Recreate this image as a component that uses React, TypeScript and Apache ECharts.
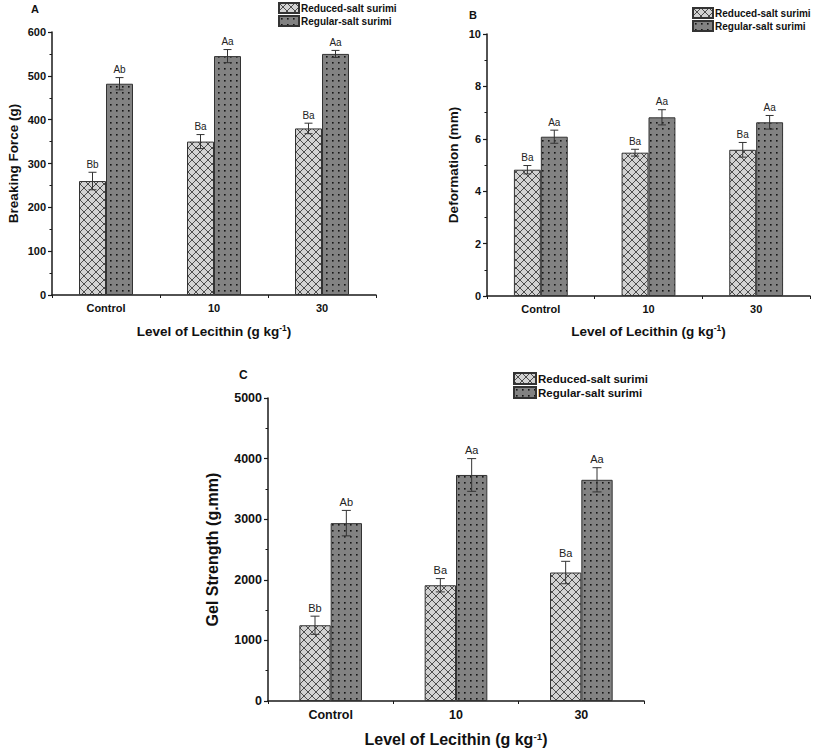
import React, { useEffect, useRef } from "react";
import * as echarts from "echarts";

const CATEGORIES = ["Control", "10", "30"];
const SERIES_NAMES = ["Reduced-salt surimi", "Regular-salt surimi"];

// Panel A: Breaking force (g)
const A_REDUCED = [260, 350, 380];
const A_REDUCED_ERR = [20, 16, 12];
const A_REGULAR = [482, 545, 550];
const A_REGULAR_ERR = [14, 15, 8];
const A_REDUCED_LABELS = ["Bb", "Ba", "Ba"];
const A_REGULAR_LABELS = ["Ab", "Aa", "Aa"];

// Panel B: Deformation (mm)
const B_REDUCED = [4.82, 5.47, 5.58];
const B_REDUCED_ERR = [0.16, 0.13, 0.28];
const B_REGULAR = [6.08, 6.82, 6.63];
const B_REGULAR_ERR = [0.25, 0.29, 0.26];
const B_REDUCED_LABELS = ["Ba", "Ba", "Ba"];
const B_REGULAR_LABELS = ["Aa", "Aa", "Aa"];

// Panel C: Gel strength (g.mm)
const C_REDUCED = [1250, 1910, 2120];
const C_REDUCED_ERR = [150, 110, 185];
const C_REGULAR = [2935, 3730, 3650];
const C_REGULAR_ERR = [210, 270, 200];
const C_REDUCED_LABELS = ["Bb", "Ba", "Ba"];
const C_REGULAR_LABELS = ["Ab", "Aa", "Aa"];

const FONT = "Liberation Sans, Arial, sans-serif";

function makeCrossHatch() {
  const c = document.createElement("canvas");
  c.width = 8;
  c.height = 8;
  const ctx = c.getContext("2d")!;
  ctx.fillStyle = "#d2d2d2";
  ctx.fillRect(0, 0, 8, 8);
  ctx.strokeStyle = "#3c3c3c";
  ctx.lineWidth = 0.9;
  ctx.beginPath();
  ctx.moveTo(-1, -1);
  ctx.lineTo(9, 9);
  ctx.moveTo(9, -1);
  ctx.lineTo(-1, 9);
  ctx.stroke();
  return c;
}

function makeDots() {
  const c = document.createElement("canvas");
  c.width = 6;
  c.height = 6;
  const ctx = c.getContext("2d")!;
  ctx.fillStyle = "#828282";
  ctx.fillRect(0, 0, 6, 6);
  ctx.fillStyle = "#151515";
  ctx.fillRect(2, 2, 1.6, 1.6);
  return c;
}

export default function App() {
  const ref = useRef<HTMLDivElement>(null);

  useEffect(() => {
    document.body.style.margin = "0";
    const chart = echarts.init(ref.current!, null, { renderer: "svg" });
    const hatch = makeCrossHatch();
    const dots = makeDots();
    const hatchColor: any = { image: hatch, repeat: "repeat", imageWidth: 8, imageHeight: 8 };
    const dotsColor: any = { image: dots, repeat: "repeat", imageWidth: 6, imageHeight: 6 };

    const panels = [
      {
        grid: { left: 52, top: 32, width: 324, height: 263 },
        max: 600, interval: 100,
        yName: "Breaking Force (g)", yGap: 32,
        red: A_REDUCED, redErr: A_REDUCED_ERR, reg: A_REGULAR, regErr: A_REGULAR_ERR,
        redLab: A_REDUCED_LABELS, regLab: A_REGULAR_LABELS,
        fs: 11, nameFs: 13.5, xGap: 29, labFs: 10, cap: 4,
      },
      {
        grid: { left: 487, top: 34, width: 323, height: 262 },
        max: 10, interval: 2,
        yName: "Deformation (mm)", yGap: 27,
        red: B_REDUCED, redErr: B_REDUCED_ERR, reg: B_REGULAR, regErr: B_REGULAR_ERR,
        redLab: B_REDUCED_LABELS, regLab: B_REGULAR_LABELS,
        fs: 11, nameFs: 13.5, xGap: 28, labFs: 10, cap: 4,
      },
      {
        grid: { left: 268, top: 398, width: 376, height: 303 },
        max: 5000, interval: 1000,
        yName: "Gel Strength (g.mm)", yGap: 48,
        red: C_REDUCED, redErr: C_REDUCED_ERR, reg: C_REGULAR, regErr: C_REGULAR_ERR,
        redLab: C_REDUCED_LABELS, regLab: C_REGULAR_LABELS,
        fs: 12.5, nameFs: 16, xGap: 30, labFs: 11, cap: 4.5,
      },
    ];

    const grids: any[] = [];
    const xAxes: any[] = [];
    const yAxes: any[] = [];
    const series: any[] = [];

    panels.forEach((p, i) => {
      grids.push({ ...p.grid, containLabel: false });
      xAxes.push({
        type: "category",
        gridIndex: i,
        data: CATEGORIES,
        axisLine: { lineStyle: { color: "#1a1a1a", width: 1.5 } },
        axisTick: { alignWithLabel: true, length: 5, lineStyle: { color: "#1a1a1a", width: 1.2 } },
        axisLabel: { fontFamily: FONT, fontWeight: "bold", fontSize: p.fs, color: "#111", margin: 7 },
        name: "Level of Lecithin (g kg{sup|-1})",
        nameLocation: "middle",
        nameGap: p.xGap,
        nameTextStyle: {
          fontFamily: FONT, fontWeight: "bold", fontSize: p.nameFs, color: "#111",
          rich: { sup: { fontFamily: FONT, fontWeight: "bold", fontSize: p.nameFs * 0.62, color: "#111", verticalAlign: "top" } },
        },
      });
      yAxes.push({
        type: "value",
        gridIndex: i,
        min: 0,
        max: p.max,
        interval: p.interval,
        axisLine: { show: true, lineStyle: { color: "#1a1a1a", width: 1.5 } },
        axisTick: { show: true, length: 4, lineStyle: { color: "#1a1a1a", width: 1.2 } },
        minorTick: { show: true, splitNumber: 2, length: 2.5, lineStyle: { color: "#1a1a1a", width: 1 } },
        splitLine: { show: false },
        axisLabel: {
          fontFamily: FONT, fontWeight: "bold", fontSize: p.fs, color: "#111", margin: 6,
          formatter: (v: number) => String(v),
        },
        name: p.yName,
        nameLocation: "middle",
        nameGap: p.yGap,
        nameTextStyle: { fontFamily: FONT, fontWeight: "bold", fontSize: p.nameFs, color: "#111" },
      });
    });
    // boundary minor ticks on x axes
    panels.forEach((p, i) => {
      xAxes.push({
        type: "value",
        gridIndex: i,
        min: 0,
        max: 3,
        interval: 1,
        position: "bottom",
        axisLine: { show: false },
        axisTick: { show: true, length: 3, lineStyle: { color: "#1a1a1a", width: 1 } },
        axisLabel: { show: false },
        splitLine: { show: false },
      });
    });

    panels.forEach((p, i) => {
      series.push({
        type: "bar",
        name: SERIES_NAMES[0],
        xAxisIndex: i,
        yAxisIndex: i,
        data: p.red,
        barWidth: "25%",
        barGap: "0%",
        itemStyle: { color: hatchColor, borderColor: "#333", borderWidth: 1 },
        emphasis: { disabled: true },
      });
      series.push({
        type: "bar",
        name: SERIES_NAMES[1],
        xAxisIndex: i,
        yAxisIndex: i,
        data: p.reg,
        barWidth: "25%",
        barGap: "0%",
        itemStyle: { color: dotsColor, borderColor: "#333", borderWidth: 1 },
        emphasis: { disabled: true },
      });
      const errData: number[][] = [];
      const labels: string[] = [];
      CATEGORIES.forEach((_, ci) => {
        errData.push([ci, p.red[ci], p.redErr[ci], -1]);
        labels.push(p.redLab[ci]);
        errData.push([ci, p.reg[ci], p.regErr[ci], 1]);
        labels.push(p.regLab[ci]);
      });
      series.push({
        type: "custom",
        name: "err" + i,
        xAxisIndex: i,
        yAxisIndex: i,
        z: 5,
        itemStyle: { color: "#222" },
        data: errData,
        renderItem: (params: any, api: any) => {
          const ci = api.value(0);
          const v = api.value(1);
          const e = api.value(2);
          const side = api.value(3);
          const band = api.size([1, 0])[0];
          const c = api.coord([ci, v]);
          const x = c[0] + side * band * 0.125;
          const top = api.coord([ci, v + e])[1];
          const bot = api.coord([ci, v - e])[1];
          const cap = p.cap;
          const ls = { stroke: "#333", lineWidth: 1 };
          return {
            type: "group",
            children: [
              { type: "line", shape: { x1: x, y1: top, x2: x, y2: bot }, style: ls },
              { type: "line", shape: { x1: x - cap, y1: top, x2: x + cap, y2: top }, style: ls },
              { type: "line", shape: { x1: x - cap, y1: bot, x2: x + cap, y2: bot }, style: ls },
              {
                type: "text",
                x: x,
                y: top - 3,
                style: {
                  text: labels[params.dataIndex],
                  fill: "#222",
                  fontSize: p.labFs,
                  fontFamily: FONT,
                  align: "center",
                  verticalAlign: "bottom",
                },
              },
            ],
          };
        },
      });
    });

    const legendBase = {
      orient: "vertical",
      itemWidth: 20,
      itemHeight: 10,
      itemGap: 1,
      padding: 0,
      icon: "rect",
      selectedMode: false,
      data: SERIES_NAMES,
    };

    chart.setOption({
      animation: false,
      backgroundColor: "#ffffff",
      title: [
        { text: "A", left: 31, top: 3, padding: 0, textStyle: { fontFamily: FONT, fontWeight: "bold", fontSize: 11, color: "#111" } },
        { text: "B", left: 469, top: 9, padding: 0, textStyle: { fontFamily: FONT, fontWeight: "bold", fontSize: 11, color: "#111" } },
        { text: "C", left: 239, top: 369, padding: 0, textStyle: { fontFamily: FONT, fontWeight: "bold", fontSize: 12, color: "#111" } },
      ],
      legend: [
        { ...legendBase, left: 278, top: 2, textStyle: { fontFamily: FONT, fontWeight: "bold", fontSize: 10, color: "#111", padding: [0, 0, 0, -3] } },
        { ...legendBase, left: 692, top: 7, textStyle: { fontFamily: FONT, fontWeight: "bold", fontSize: 10, color: "#111", padding: [0, 0, 0, -3] } },
        { ...legendBase, left: 513, top: 372, itemWidth: 22, itemHeight: 11, textStyle: { fontFamily: FONT, fontWeight: "bold", fontSize: 11.5, color: "#111", padding: [0, 0, 0, -3] } },
      ],
      grid: grids,
      xAxis: xAxes,
      yAxis: yAxes,
      series,
    });

    return () => chart.dispose();
  }, []);

  return <div ref={ref} style={{ position: "absolute", left: 0, top: 0, width: 813, height: 752 }} />;
}
